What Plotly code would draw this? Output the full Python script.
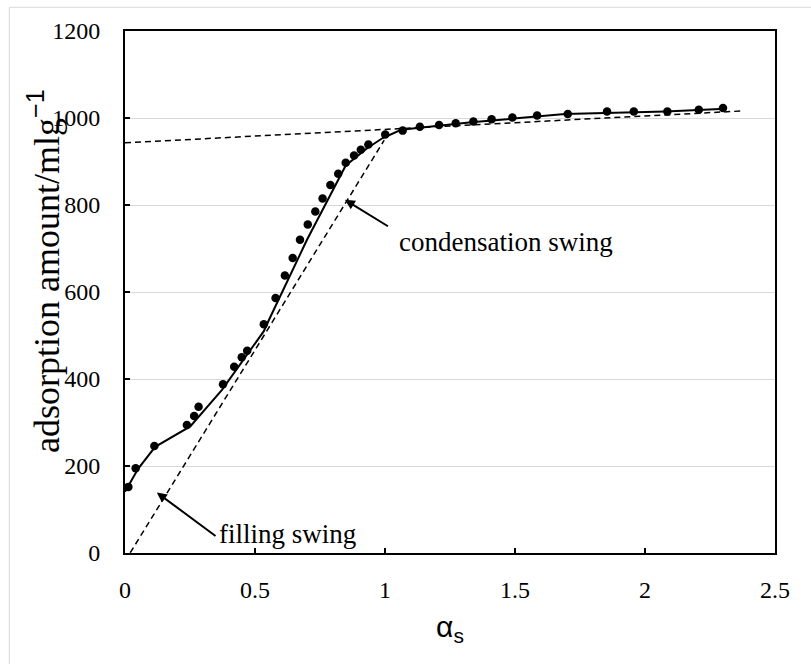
import plotly.graph_objects as go

# measured data points (alpha_s, adsorption amount)
alpha_pts = [0.013, 0.041, 0.113, 0.238, 0.266, 0.283, 0.377, 0.420, 0.449, 0.470, 0.534,
             0.579, 0.615, 0.645, 0.673, 0.703, 0.732, 0.760, 0.790, 0.820, 0.849, 0.881,
             0.907, 0.936, 1.001, 1.068, 1.134, 1.208, 1.272, 1.340, 1.410, 1.490, 1.585,
             1.703, 1.854, 1.957, 2.086, 2.207, 2.300]
ads_pts = [152, 195, 246, 294, 315, 336, 388, 428, 450, 465, 526,
           586, 638, 678, 720, 755, 785, 815, 846, 872, 897, 914,
           927, 939, 962, 971, 980, 984, 988, 992, 997, 1001, 1006,
           1009, 1015, 1015, 1015, 1019, 1023]

# fitted curve (solid)
alpha_fit = [0.0, 0.051, 0.116, 0.251, 0.373, 0.534, 0.553, 0.700, 0.849, 0.930, 0.991,
             1.062, 1.152, 1.332, 1.692, 2.079, 2.310]
ads_fit = [141, 194, 244, 291, 375, 510, 535, 720, 891, 930, 954,
           973, 979, 990, 1009, 1015, 1021]

# dashed tangent lines
alpha_fill = [0.0, 0.997]
ads_fill = [-19, 949]
alpha_cond = [0.0, 2.368]
ads_cond = [943, 1016]

y_ticks = [0, 200, 400, 600, 800, 1000, 1200]
x_ticks = [0, 0.5, 1, 1.5, 2, 2.5]
x_ticklabels = ["0", "0.5", "1", "1.5", "2", "2.5"]

SERIF = "Liberation Serif"
SANS = "Liberation Sans"

fig = go.Figure()
fig.add_trace(go.Scatter(x=alpha_fill, y=ads_fill, mode="lines",
                         line=dict(color="black", width=1.5, dash="6px,4px"),
                         showlegend=False, hoverinfo="skip"))
fig.add_trace(go.Scatter(x=alpha_cond, y=ads_cond, mode="lines",
                         line=dict(color="black", width=1.5, dash="6px,4px"),
                         showlegend=False, hoverinfo="skip"))
fig.add_trace(go.Scatter(x=alpha_fit, y=ads_fit, mode="lines",
                         line=dict(color="black", width=2),
                         showlegend=False))
fig.add_trace(go.Scatter(x=alpha_pts, y=ads_pts, mode="markers",
                         marker=dict(color="black", size=8.5),
                         showlegend=False))

# arrows
fig.add_annotation(x=0.8456, y=812, ax=1.017, ay=749, xref="x", yref="y",
                   axref="x", ayref="y", text="", showarrow=True,
                   arrowhead=2, arrowsize=1, arrowwidth=2, arrowcolor="black")
fig.add_annotation(x=0.1224, y=139, ax=0.354, ay=36.7, xref="x", yref="y",
                   axref="x", ayref="y", text="", showarrow=True,
                   arrowhead=2, arrowsize=1, arrowwidth=2, arrowcolor="black")
fig.add_annotation(x=1.467, y=716, xref="x", yref="y", text="condensation swing",
                   showarrow=False, font=dict(family=SERIF, size=27, color="black"))
fig.add_annotation(x=0.624, y=44, xref="x", yref="y", text="filling swing",
                   showarrow=False, font=dict(family=SERIF, size=27, color="black"))

# y-axis title as rotated annotation
fig.add_annotation(x=(44 - 125) / 650, y=(553 - 271) / 522, xref="paper", yref="paper",
                   text="adsorption amount/mlg<span style=\"font-family:Liberation Sans\"><sup>−1</sup></span>",
                   textangle=-90, showarrow=False, xanchor="center", yanchor="middle",
                   font=dict(family=SERIF, size=36, color="black"))

# outer chart-area border (only top/left visible)
fig.add_shape(type="rect", xref="paper", yref="paper",
              x0=(9.3 - 125) / 650, x1=(820 - 125) / 650,
              y0=(553 - 680) / 522, y1=(553 - 7.3) / 522,
              line=dict(color="#d9d9d9", width=1), layer="below")

fig.update_layout(
    width=811, height=664,
    margin=dict(l=125, r=36, t=31, b=111),
    paper_bgcolor="white", plot_bgcolor="white",
    font=dict(family=SERIF, color="black"),
    xaxis=dict(range=[0, 2.5], tickvals=x_ticks, ticktext=x_ticklabels,
               showgrid=False, zeroline=False,
               showline=True, linecolor="black", linewidth=2, mirror=True,
               ticks="inside", ticklen=5, tickwidth=1.5, tickcolor="black",
               tickfont=dict(family=SERIF, size=24, color="black"),
               ticklabelstandoff=14,
               title=dict(text="α<sub>s</sub>", font=dict(family=SANS, size=30, color="black"),
                          standoff=14)),
    yaxis=dict(range=[0, 1200], tickvals=y_ticks,
               showgrid=True, gridcolor="#d9d9d9", gridwidth=1, zeroline=False,
               showline=True, linecolor="black", linewidth=2, mirror=True,
               ticks="inside", ticklen=5, tickwidth=1.5, tickcolor="black",
               tickfont=dict(family=SERIF, size=24, color="black"),
               ticklabelstandoff=18),
)

fig.write_html("out.html")
